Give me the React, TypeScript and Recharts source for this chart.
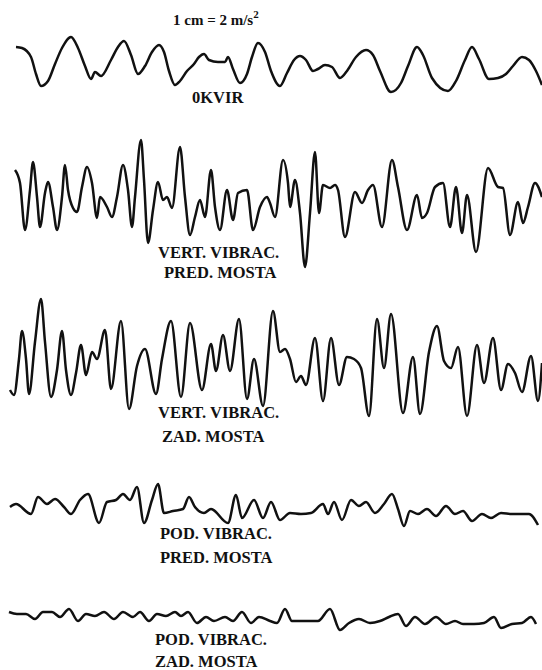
import React from 'react';
import { LineChart, Line, XAxis, YAxis } from 'recharts';

// time (arbitrary units along the strip) and amplitude readings for each record
const okvirT = [16, 22, 31, 36, 41, 48, 55, 62, 71, 78, 85, 91, 95, 101, 111, 118, 124, 131, 138, 145, 152, 159, 164, 169, 175, 180, 187, 194, 199, 204, 209, 218, 225, 228, 233, 240, 247, 252, 258, 265, 271, 280, 287, 294, 300, 306, 313, 318, 325, 332, 340, 347, 356, 366, 373, 380, 391, 401, 408, 417, 423, 432, 448, 456, 465, 472, 479, 489, 498, 506, 513, 522, 529, 536, 542];
const okvirA = [17, 16, 7, -10, -22, -17, 0, 16, 27, 16, -2, -15, -8, -12, 4, 17, 23, 9, -10, -2, 12, 19, 12, -7, -21, -17, -7, 0, 7, 10, 4, 2, 2, 7, -5, -19, -10, 7, 21, 12, -7, -22, -9, 4, 8, 4, -7, -5, -1, -3, -14, -7, 7, 14, 9, -7, -28, -19, -2, 17, 9, -14, -27, -17, 4, 17, 5, -15, -14, -10, -2, 7, 4, -7, -21];

const vertPredT = [15, 20, 25, 30, 33, 37, 40, 45, 48, 53, 57, 62, 65, 68, 73, 77, 82, 87, 92, 97, 100, 107, 112, 117, 123, 128, 132, 135, 141, 144, 148, 153, 158, 163, 167, 172, 180, 185, 190, 195, 200, 205, 211, 215, 220, 227, 233, 238, 247, 253, 260, 267, 270, 275, 283, 288, 290, 295, 300, 305, 310, 315, 319, 323, 330, 335, 338, 345, 355, 362, 368, 373, 382, 392, 398, 407, 417, 422, 427, 435, 443, 450, 456, 462, 467, 476, 488, 498, 503, 510, 518, 523, 528, 535, 542];
const vertPredA = [30, 17, -30, 10, 38, 3, -27, 7, 18, -7, -30, 3, 35, 10, -8, -12, 13, 33, 17, -18, 3, -7, -17, 3, 35, 10, -27, 3, 60, 20, -43, -10, 18, 0, 3, -8, 53, 3, -35, -17, 0, -17, 30, -7, -30, 10, -20, 7, 10, -30, -7, 3, -3, -17, 40, 17, -7, 20, -13, -67, -13, 48, -13, 15, 12, 15, 10, -37, 8, -3, 10, 15, -27, 40, 13, -30, 5, -18, -13, 13, 17, -27, 13, -33, 5, -52, 32, 13, 12, -35, -2, -23, -7, 17, 3];

const vertZadT = [10, 14, 19, 22, 26, 29, 35, 41, 45, 51, 57, 62, 66, 71, 76, 81, 86, 92, 97, 105, 111, 121, 129, 137, 145, 156, 162, 171, 181, 190, 202, 211, 216, 223, 230, 239, 247, 254, 263, 273, 280, 285, 290, 296, 301, 306, 315, 323, 331, 339, 347, 354, 361, 369, 377, 384, 391, 403, 413, 420, 429, 437, 444, 451, 458, 467, 477, 484, 493, 501, 508, 515, 522, 531, 538, 542];
const vertZadA = [-28, -33, 3, 31, 3, -32, 20, 63, 20, -35, -8, 31, -8, -33, -11, 17, -13, 10, 3, 32, -27, 41, -47, -4, 13, -32, 3, 41, -35, 39, -28, 18, -9, 27, -9, 43, -37, 3, -44, 51, 10, 13, 3, -20, -14, -23, 24, -39, 24, -23, 5, 3, -6, -54, 43, -6, 48, -51, 5, -52, 10, 36, 1, -6, 15, -54, 17, -21, 24, -28, -2, -11, -30, 6, -39, -1];

const podPredT = [10, 16, 31, 38, 47, 55, 64, 71, 80, 88, 99, 107, 116, 123, 130, 137, 144, 152, 158, 164, 173, 183, 189, 195, 204, 211, 228, 236, 242, 254, 263, 271, 280, 290, 301, 311, 323, 328, 334, 342, 351, 359, 366, 375, 384, 392, 398, 404, 410, 418, 427, 436, 446, 455, 463, 472, 482, 491, 501, 512, 522, 529, 538];
const podPredA = [1, 4, -6, 11, 4, 9, 1, -6, 8, 14, -15, 6, 8, 14, 8, 21, -15, 8, 24, -5, -3, -1, 11, 1, -5, -1, -15, 13, -10, 8, -10, 6, -12, -5, -6, -5, 4, -6, 6, -12, 8, 2, 6, -5, 4, 14, -1, -18, -3, -6, -1, -8, 2, -6, -3, -13, -6, -10, -5, -6, -6, -6, -17];

const podZadT = [9, 17, 26, 35, 43, 52, 60, 69, 78, 86, 95, 104, 114, 123, 133, 140, 149, 157, 166, 175, 181, 188, 197, 206, 214, 225, 233, 242, 251, 259, 270, 277, 285, 292, 304, 318, 330, 340, 349, 359, 370, 380, 389, 398, 406, 415, 425, 436, 446, 455, 463, 474, 484, 494, 501, 512, 522, 531, 536];
const podZadA = [6, 4, 4, -1, 6, 6, 1, 9, -3, 4, 2, 6, -1, 6, 1, 6, -3, 4, 2, 6, 2, 6, -5, 1, -3, 1, -3, 6, -5, 1, -3, -5, 9, -3, -3, -3, 9, -12, -5, -1, -5, -3, 1, 4, -8, 1, -6, 1, -6, -3, -6, -6, -5, 1, -10, -6, -5, 1, -6];

const toRows = (t: number[], a: number[]) => t.map((v, i) => ({ t: v, a: a[i] }));

const traces = [
  { data: toRows(okvirT, okvirA), mid: 64, h: 80 },
  { data: toRows(vertPredT, vertPredA), mid: 200, h: 150 },
  { data: toRows(vertZadT, vertZadA), mid: 362, h: 140 },
  { data: toRows(podPredT, podPredA), mid: 508, h: 60 },
  { data: toRows(podZadT, podZadA), mid: 618, h: 40 },
];

const labels = [
  { text: 'VERT. VIBRAC.', x: 158, y: 253 },
  { text: 'PRED. MOSTA', x: 164, y: 273 },
  { text: 'VERT. VIBRAC.', x: 158, y: 413 },
  { text: 'ZAD. MOSTA', x: 162, y: 437 },
  { text: 'POD. VIBRAC.', x: 160, y: 534 },
  { text: 'PRED. MOSTA', x: 160, y: 558 },
  { text: 'POD. VIBRAC.', x: 155, y: 640 },
  { text: 'ZAD. MOSTA', x: 155, y: 662 },
  { text: '0KVIR', x: 192, y: 98 },
];

const FS = 16.5;
const textStyle: React.CSSProperties = {
  position: 'absolute',
  fontFamily: '"Liberation Serif", "DejaVu Serif", serif',
  fontWeight: 'bold',
  fontSize: FS,
  lineHeight: 1,
  color: '#111',
  whiteSpace: 'nowrap',
};

export default function App() {
  return (
    <div style={{ position: 'absolute', left: 0, top: 0, width: 542, height: 670, background: '#fff', overflow: 'hidden' }}>
      {traces.map((tr, i) => (
        <div key={i} style={{ position: 'absolute', left: 0, top: tr.mid - tr.h / 2 }}>
          <LineChart width={542} height={tr.h} data={tr.data} margin={{ top: 0, right: 0, bottom: 0, left: 0 }}>
            <XAxis type="number" dataKey="t" domain={[0, 542]} hide allowDataOverflow />
            <YAxis type="number" domain={[-tr.h / 2, tr.h / 2]} hide allowDataOverflow />
            <Line type="monotone" dataKey="a" stroke="#111" strokeWidth={2.5} dot={false} isAnimationActive={false} />
          </LineChart>
        </div>
      ))}
      <div style={{ ...textStyle, fontSize: 15, left: 173, top: 20 - 7.5 }}>
        1 cm = 2 m/s<sup style={{ fontSize: 11, verticalAlign: 'top', position: 'relative', top: -4 }}>2</sup>
      </div>
      {labels.map((l, i) => (
        <div key={i} style={{ ...textStyle, left: l.x, top: l.y - FS / 2 }}>{l.text}</div>
      ))}
    </div>
  );
}
